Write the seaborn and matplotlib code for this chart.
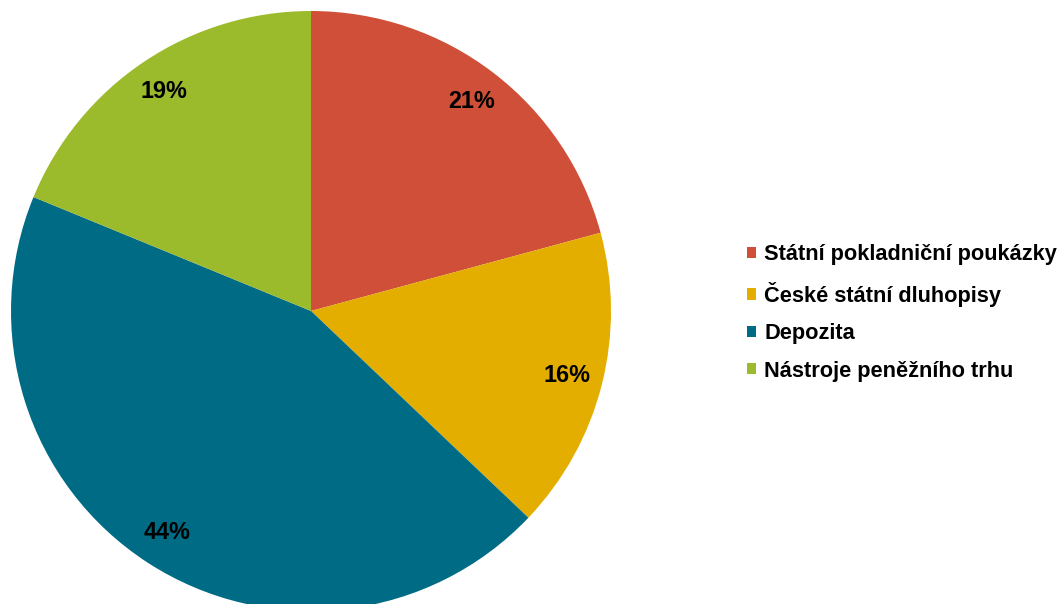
import matplotlib
matplotlib.use("Agg")
import matplotlib.pyplot as plt
from matplotlib.patches import Patch
import numpy as np
import seaborn as sns

# data
categories = ["Státní pokladniční poukázky", "České státní dluhopisy",
              "Depozita", "Nástroje peněžního trhu"]
shares = [20.8, 16.3, 44.1, 18.8]
pct_labels = ["21%", "16%", "44%", "19%"]
colors = ["#D04F38", "#E3AE00", "#006B84", "#9BBA2C"]

sns.set_theme(style="white")
plt.rcParams['font.family'] = ['Liberation Sans', 'DejaVu Sans']
plt.rcParams['text.color'] = 'black'

fig = plt.figure(figsize=(10.58, 6.04), dpi=100)
W, H = 1058, 604
cx, cy, r = 311, 311, 300
ax = fig.add_axes([(cx - r) / W, (H - cy - r) / H, 2 * r / W, 2 * r / H])

wedges, texts = ax.pie(shares, colors=colors, startangle=90, counterclock=False,
                       radius=1, wedgeprops=dict(linewidth=0))
for w, lab in zip(wedges, pct_labels):
    ang = np.deg2rad((w.theta1 + w.theta2) / 2)
    ax.text(0.88 * np.cos(ang), 0.88 * np.sin(ang), lab, ha="center", va="center",
            fontsize=16.8, fontweight="bold", color="black")
ax.set_xlim(-1, 1)
ax.set_ylim(-1, 1)
ax.set_aspect("equal")
ax.axis("off")

handles = [Patch(facecolor=c, edgecolor="none") for c in colors]
fig.legend(handles, categories, loc="center left",
           bbox_to_anchor=(747 / W, 1 - 313 / H), frameon=False,
           prop=dict(size=15.7, weight="bold"), labelcolor="black",
           handlelength=0.42, handleheight=0.42, handletextpad=0.38,
           labelspacing=0.75, borderpad=0, borderaxespad=0)

fig.savefig("out.png", dpi=100)
